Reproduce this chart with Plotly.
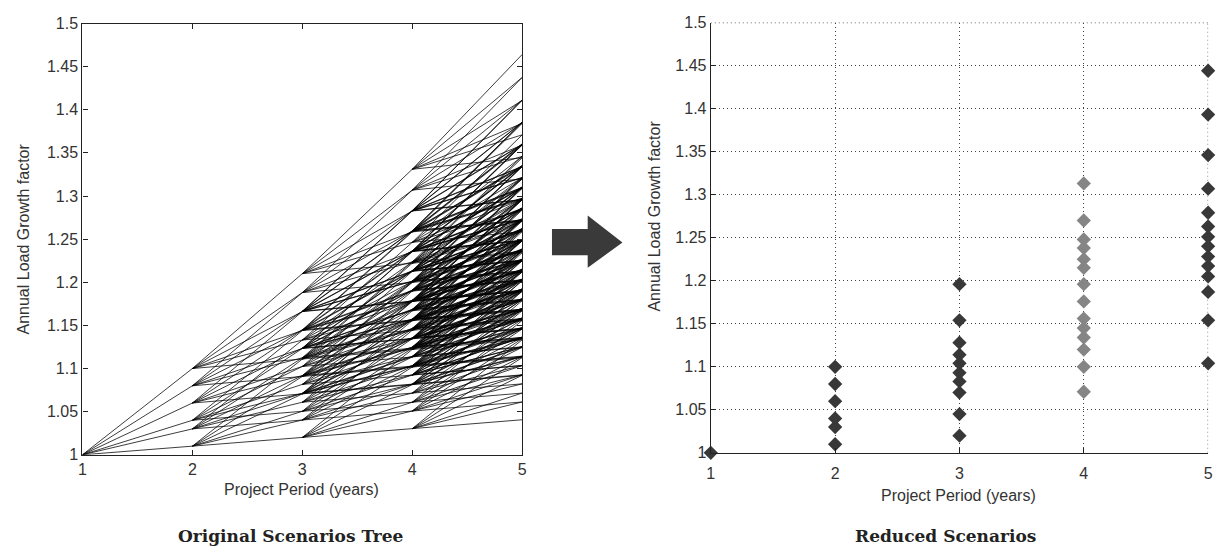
import plotly.graph_objects as go

# ---------------- data ----------------
years = [1, 2, 3, 4, 5]
year_tick_text = ["1", "2", "3", "4", "5"]
factor_ticks = [1.0, 1.05, 1.1, 1.15, 1.2, 1.25, 1.3, 1.35, 1.4, 1.45, 1.5]
factor_tick_text = ["1", "1.05", "1.1", "1.15", "1.2", "1.25", "1.3", "1.35", "1.4", "1.45", "1.5"]

# annual growth multipliers read from the year-2 nodes of the tree
branch_multipliers = [1.01, 1.03, 1.04, 1.06, 1.08, 1.10]

# reduced scenarios
reduced_y1 = [1.0]
reduced_y2 = [1.01, 1.03, 1.04, 1.06, 1.08, 1.10]
reduced_y3 = [1.02, 1.045, 1.07, 1.083, 1.093, 1.104, 1.114, 1.128, 1.154, 1.196]
reduced_y4 = [1.071, 1.10, 1.12, 1.134, 1.145, 1.156, 1.176, 1.196, 1.215, 1.225,
              1.238, 1.248, 1.27, 1.313]
reduced_y5 = [1.104, 1.154, 1.187, 1.205, 1.217, 1.228, 1.24, 1.251, 1.263, 1.279,
              1.307, 1.346, 1.393, 1.444]

# ---------------- build tree edges ----------------
edge_x, edge_y = [], []
level = {1.0}
seen = set()
for stage in range(len(years) - 1):
    nxt = set()
    for v in sorted(level):
        for m in branch_multipliers:
            c = round(v * m, 6)
            key = (stage, round(v, 6), c)
            if key not in seen:
                seen.add(key)
                edge_x += [years[stage], years[stage + 1], None]
                edge_y += [v, c, None]
            nxt.add(c)
    level = nxt

W, H = 1230, 551
def px(x): return x / W
def py(y): return 1 - y / H

fig = go.Figure()

fig.add_trace(go.Scatter(x=edge_x, y=edge_y, mode="lines",
                         line=dict(color="rgba(0,0,0,0.85)", width=0.9),
                         xaxis="x", yaxis="y", hoverinfo="skip", showlegend=False))

dark = "#383838"
light = "#858585"
for yr, vals, col in [(1, reduced_y1, dark), (2, reduced_y2, dark), (3, reduced_y3, dark),
                      (4, reduced_y4, light), (5, reduced_y5, dark)]:
    fig.add_trace(go.Scatter(x=[yr] * len(vals), y=vals, mode="markers",
                             marker=dict(symbol="diamond", size=11, color=col,
                                         line=dict(width=0)),
                             cliponaxis=False, xaxis="x2", yaxis="y2", showlegend=False))

tickfont = dict(family="Liberation Sans, Arial", size=16, color="#333")
common_x = dict(tickvals=years, ticktext=year_tick_text, tickfont=tickfont,
                showline=True, linecolor="#222", linewidth=1.2, zeroline=False,
                ticks="inside", ticklen=5, tickcolor="#222")
common_y = dict(tickvals=factor_ticks, ticktext=factor_tick_text,
                tickfont=tickfont, showline=True, linecolor="#222", linewidth=1.2,
                zeroline=False, ticks="inside", ticklen=5, tickcolor="#222")

grid_dash = "1px,3px"
fig.update_layout(
    width=W, height=H, margin=dict(l=0, r=0, t=0, b=0),
    paper_bgcolor="white", plot_bgcolor="white",
    xaxis=dict(domain=[px(79), px(522)], anchor="y", mirror="ticks", showgrid=False,
               range=[1, 5], **common_x),
    yaxis=dict(domain=[py(461), py(16)], anchor="x", mirror="ticks", showgrid=False,
               range=[1, 1.5], **common_y),
    xaxis2=dict(domain=[px(712), px(1213)], anchor="y2", showgrid=True, gridcolor="#444",
                griddash=grid_dash, gridwidth=1.2, range=[1, 5],
                ticklabelstandoff=6, **common_x),
    yaxis2=dict(domain=[py(459), py(15)], anchor="x2", showgrid=True, gridcolor="#444",
                griddash=grid_dash, gridwidth=1.2, range=[1, 1.5], **common_y),
)

# grid lines at the top and right edges of the right panel (plotly skips edge gridlines)
fig.add_shape(type="line", xref="x2", yref="y2", x0=years[0], x1=years[-1],
              y0=factor_ticks[-1], y1=factor_ticks[-1],
              line=dict(color="#444", width=1.2, dash=grid_dash), layer="below")
fig.add_shape(type="line", xref="x2", yref="y2", x0=years[-1], x1=years[-1],
              y0=factor_ticks[0], y1=factor_ticks[-1],
              line=dict(color="#444", width=1.2, dash=grid_dash), layer="below")

title_font = dict(family="Liberation Sans, Arial", size=16, color="#333")
serif = dict(family="DejaVu Serif", size=17, color="#222")
ann = [
    dict(x=px(300), y=py(497), text="Project Period (years)", font=title_font),
    dict(x=px(962), y=py(503), text="Project Period (years)", font=title_font),
    dict(x=px(20), y=py(238), text="Annual Load Growth factor", font=title_font, textangle=-90),
    dict(x=px(655), y=py(215), text="Annual Load Growth factor", font=title_font, textangle=-90),
    dict(x=px(289), y=py(545), text="<b>Original Scenarios Tree</b>", font=serif),
    dict(x=px(948), y=py(545), text="<b>Reduced Scenarios</b>", font=serif),
]
for a in ann:
    a.update(xref="paper", yref="paper", showarrow=False, xanchor="center", yanchor="middle")
fig.update_layout(annotations=ann)

# block arrow between panels
path = (f"M {px(552)} {py(228)} L {px(588)} {py(228)} L {px(588)} {py(214)} "
        f"L {px(623)} {py(242)} L {px(588)} {py(268)} L {px(588)} {py(255)} "
        f"L {px(552)} {py(255)} Z")
fig.add_shape(type="path", path=path, xref="paper", yref="paper",
              fillcolor="#3a3a3a", line=dict(width=0))

fig.write_html("out.html")
